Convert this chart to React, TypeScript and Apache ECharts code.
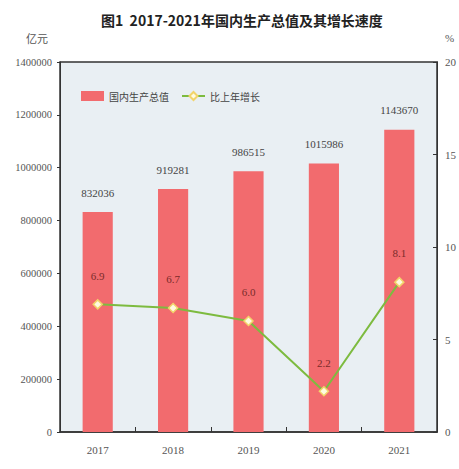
import React, { useEffect, useRef } from "react";
import * as echarts from "echarts";

const years = ["2017", "2018", "2019", "2020", "2021"];
const gdp = [832036, 919281, 986515, 1015986, 1143670];
const growth = [6.9, 6.7, 6.0, 2.2, 8.1];
const titleText = "图1  2017-2021年国内生产总值及其增长速度";
const leftUnit = "亿元";
const rightUnit = "%";
const gdpName = "国内生产总值";
const growthName = "比上年增长";

export default function App() {
  const ref = useRef<HTMLDivElement>(null);
  useEffect(() => {
    if (!ref.current) return;
    const chart = echarts.init(ref.current, null, { renderer: "svg" });
    const serif = "'Liberation Serif', 'DejaVu Serif', serif";
    const cjk = "'Noto Sans CJK SC', sans-serif";
    chart.setOption({
      animation: false,
      backgroundColor: "#ffffff",
      title: {
        text: titleText,
        left: 96,
        top: 8,
        textStyle: { fontFamily: cjk, fontSize: 14, fontWeight: "bold", color: "#222" },
      },
      graphic: [
        { type: "text", left: 26, top: 32, style: { text: leftUnit, fontFamily: cjk, fontSize: 11, fill: "#555" } },
        { type: "text", left: 445, top: 32, style: { text: rightUnit, fontFamily: serif, fontSize: 11, fill: "#555" } },
      ],
      legend: {
        left: 76,
        top: 86,
        itemGap: 12,
        itemWidth: 23,
        itemHeight: 10,
        textStyle: { fontFamily: cjk, fontSize: 10, color: "#444" },
        data: [
          { name: gdpName, icon: "rect" },
          { name: growthName },
        ],
      },
      grid: {
        left: 60,
        right: 22,
        top: 62,
        bottom: 37,
        show: true,
        backgroundColor: "#e9eff3",
        borderColor: "#333",
        borderWidth: 1.5,
      },
      xAxis: {
        type: "category",
        data: years,
        axisLine: { lineStyle: { color: "#333", width: 1.5 } },
        axisTick: { show: true, inside: true, length: 5, lineStyle: { color: "#333" } },
        axisLabel: { fontFamily: serif, fontSize: 11, color: "#555", margin: 12 },
      },
      yAxis: [
        {
          type: "value",
          min: 0,
          max: 1400000,
          interval: 200000,
          splitLine: { show: false },
          axisLine: { show: true, lineStyle: { color: "#333" } },
          axisTick: { show: true, length: 3, lineStyle: { color: "#333" } },
          axisLabel: {
            fontFamily: serif,
            fontSize: 10.5,
            color: "#555",
            margin: 8,
            formatter: (v: number) => String(v),
          },
        },
        {
          type: "value",
          min: 0,
          max: 20,
          interval: 5,
          splitLine: { show: false },
          axisLine: { show: true, lineStyle: { color: "#333" } },
          axisTick: { show: true, inside: true, length: 4, lineStyle: { color: "#333" } },
          axisLabel: { fontFamily: serif, fontSize: 11, color: "#555", margin: 8 },
        },
      ],
      series: [
        {
          name: gdpName,
          type: "bar",
          data: gdp,
          barWidth: "40%",
          itemStyle: { color: "#f26b6e" },
          label: {
            show: true,
            position: "top",
            distance: 14,
            fontFamily: serif,
            fontSize: 11,
            color: "#444",
          },
        },
        {
          name: growthName,
          type: "line",
          yAxisIndex: 1,
          data: growth,
          symbol: "diamond",
          symbolSize: 9,
          lineStyle: { color: "#7dbb3f", width: 2 },
          itemStyle: { color: "#fffbe0", borderColor: "#f2d46a", borderWidth: 1.5 },
          label: {
            show: true,
            position: "top",
            distance: 18,
            fontFamily: serif,
            fontSize: 11,
            color: "#7a2b2b",
            formatter: (p: any) => p.value.toFixed(1),
          },
        },
      ],
    });
    return () => chart.dispose();
  }, []);
  return (
    <div
      ref={ref}
      style={{ position: "fixed", left: 0, top: 0, width: 459, height: 469 }}
    />
  );
}
